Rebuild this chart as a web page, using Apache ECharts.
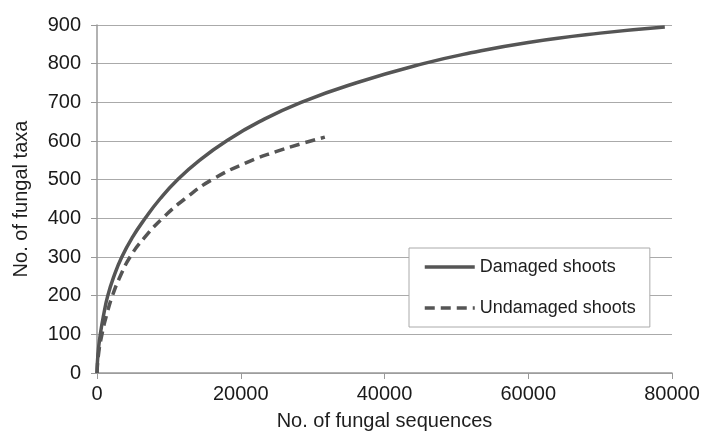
<!DOCTYPE html>
<html>
<head>
<meta charset="utf-8">
<script src="https://cdn.jsdelivr.net/npm/echarts@6/dist/echarts.min.js"></script>
<style>
  html, body { margin: 0; padding: 0; background: #fff; }
  #chart-container { width: 706px; height: 441px; }
</style>
</head>
<body>
<div id="chart-container"></div>
<script>
// rarefaction curves: [sequences, taxa]
var damagedSeq  = [0, 140, 460, 920, 1500, 2350, 3450, 4900, 6700, 8750, 11200, 14250, 18000, 22600, 28400, 36000, 45400, 52000, 60000, 70000, 79000];
var damagedTaxa = [0, 50, 100, 150, 200, 250, 300, 350, 400, 450, 500, 550, 600, 650, 700, 750, 800, 828, 855, 879, 895];

var undamagedSeq  = [0, 220, 690, 1340, 2150, 3230, 4600, 6600, 9100, 12200, 16000, 21300, 25000, 28250, 31700];
var undamagedTaxa = [0, 50, 100, 150, 200, 250, 300, 350, 400, 450, 500, 548, 573, 592, 610];

var xTicks = [0, 20000, 40000, 60000, 80000];
var yTicks = [0, 100, 200, 300, 400, 500, 600, 700, 800, 900];

function pairs(xs, ys) {
    var out = [];
    for (var i = 0; i < xs.length; i++) out.push([xs[i], ys[i]]);
    return out;
}

var font = '"Liberation Sans", Arial, sans-serif';
var myChart = echarts.init(document.getElementById('chart-container'));

var option = {
    backgroundColor: '#fff',
    animation: false,
    grid: { left: 97, right: 34, top: 25, bottom: 68 },
    legend: {
        orient: 'vertical',
        left: 409,
        top: 248,
        padding: [9, 14, 9, 14],
        itemWidth: 50,
        itemHeight: 14,
        itemGap: 21,
        borderColor: '#aaa',
        borderWidth: 1,
        backgroundColor: '#fff',
        itemStyle: { opacity: 0 },
        lineStyle: { width: 3.5 },
        textStyle: { fontFamily: font, fontSize: 18, color: '#1e1e1e', lineHeight: 20 },
        data: ['Damaged shoots', 'Undamaged shoots']
    },
    xAxis: {
        type: 'value',
        min: 0,
        max: 80000,
        interval: 20000,
        name: 'No. of fungal sequences',
        nameLocation: 'middle',
        nameGap: 38,
        nameTextStyle: { fontFamily: font, fontSize: 20, color: '#1e1e1e' },
        axisLine: { lineStyle: { color: '#999', width: 1.5 } },
        axisTick: { show: true, length: 6, lineStyle: { color: '#999' } },
        axisLabel: {
            fontFamily: font, fontSize: 20, color: '#1a1a1a', margin: 11,
            formatter: function (v) { return xTicks.indexOf(v) >= 0 ? String(v) : ''; }
        },
        splitLine: { show: false }
    },
    yAxis: {
        type: 'value',
        min: 0,
        max: 900,
        interval: 100,
        name: 'No. of fungal taxa',
        nameLocation: 'middle',
        nameGap: 66,
        nameTextStyle: { fontFamily: font, fontSize: 20, color: '#1e1e1e' },
        axisLine: { show: true, lineStyle: { color: '#999', width: 1.5 } },
        axisTick: { show: true, length: 6, lineStyle: { color: '#999' } },
        axisLabel: {
            fontFamily: font, fontSize: 20, color: '#1a1a1a', margin: 16,
            formatter: function (v) { return yTicks.indexOf(v) >= 0 ? String(v) : ''; }
        },
        splitLine: { show: true, lineStyle: { color: '#aaa', width: 1.2 } }
    },
    series: [
        {
            name: 'Damaged shoots',
            type: 'line',
            smooth: 0.5,
            symbol: 'none',
            color: '#555',
            lineStyle: { color: '#555', width: 3.5 },
            data: pairs(damagedSeq, damagedTaxa)
        },
        {
            name: 'Undamaged shoots',
            type: 'line',
            smooth: 0.5,
            symbol: 'none',
            color: '#555',
            lineStyle: { color: '#555', width: 3.5, type: [10, 6] },
            data: pairs(undamagedSeq, undamagedTaxa)
        }
    ]
};
myChart.setOption(option);
</script>
</body>
</html>
